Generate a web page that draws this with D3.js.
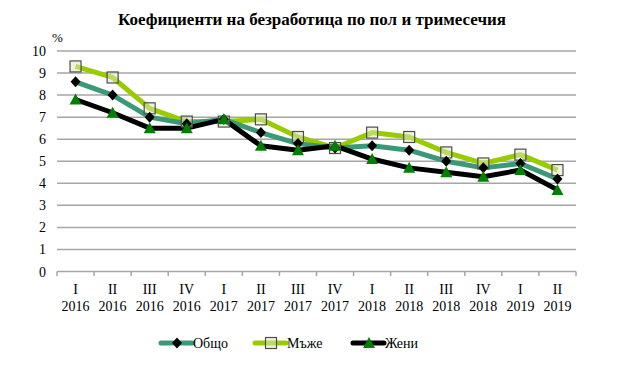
<!DOCTYPE html>
<html>
<head>
<style>
  body{
    margin: 0;
    background: white;
    font-family: 'Liberation Serif', 'Times New Roman', serif;
  }
</style>
</head>
<body>
<svg id='svgVis'></svg>
<script src="https://cdn.jsdelivr.net/npm/d3@7/dist/d3.min.js"></script>
<script>

var quarters = ["I","II","III","IV","I","II","III","IV","I","II","III","IV","I","II"];
var years = ["2016","2016","2016","2016","2017","2017","2017","2017","2018","2018","2018","2018","2019","2019"];

var total = [8.6, 8.0, 7.0, 6.7, 6.9, 6.3, 5.8, 5.6, 5.7, 5.5, 5.0, 4.7, 4.9, 4.2];
var men   = [9.3, 8.8, 7.4, 6.8, 6.8, 6.9, 6.1, 5.6, 6.3, 6.1, 5.4, 4.9, 5.3, 4.6];
var women = [7.8, 7.2, 6.5, 6.5, 6.9, 5.7, 5.5, 5.7, 5.1, 4.7, 4.5, 4.3, 4.6, 3.7];

var yTicks = [0,1,2,3,4,5,6,7,8,9,10];

var width = 630, height = 372;

var svg = d3.select("#svgVis")
    .attr("width", width)
    .attr("height", height)
    .style("font-family", "'Liberation Serif', serif");

var x = d3.scaleBand()
    .domain(d3.range(quarters.length))
    .range([57, 576]);

var y = d3.scaleLinear()
    .domain([0, 10])
    .range([271.5, 51]);

// title
svg.append("text")
  .attr("x", 312)
  .attr("y", 25)
  .attr("text-anchor", "middle")
  .style("font-weight", "bold")
  .style("font-size", "17px")
  .text("Коефициенти на безработица по пол и тримесечия");

svg.append("text")
  .attr("x", 52)
  .attr("y", 42)
  .style("font-size", "13px")
  .text("%");

// gridlines
svg.append("g")
  .selectAll("line")
  .data(yTicks)
  .enter()
  .append("line")
  .attr("x1", 57)
  .attr("x2", 576)
  .attr("y1", function(d) { return y(d); })
  .attr("y2", function(d) { return y(d); })
  .style("stroke", "#a6a6a6")
  .style("stroke-width", 1.5);

// y labels
svg.append("g")
  .selectAll("text")
  .data(yTicks)
  .enter()
  .append("text")
  .attr("x", 46)
  .attr("y", function(d) { return y(d) + 5; })
  .attr("text-anchor", "end")
  .style("font-size", "14px")
  .text(function(d) { return d; });

// x axis ticks
svg.append("g")
  .selectAll("line")
  .data(d3.range(quarters.length + 1))
  .enter()
  .append("line")
  .attr("x1", function(d) { return 57 + d * x.step(); })
  .attr("x2", function(d) { return 57 + d * x.step(); })
  .attr("y1", 271.5)
  .attr("y2", 276)
  .style("stroke", "#a6a6a6")
  .style("stroke-width", 1.5);

var xLab = svg.append("g")
  .selectAll("g")
  .data(quarters)
  .enter()
  .append("g")
  .attr("transform", function(d, i) { return "translate(" + (x(i) + x.bandwidth() / 2) + ",0)"; });

xLab.append("text")
  .attr("y", 294)
  .attr("text-anchor", "middle")
  .style("font-size", "14px")
  .text(function(d) { return d; });

xLab.append("text")
  .attr("y", 311)
  .attr("text-anchor", "middle")
  .style("font-size", "14px")
  .text(function(d, i) { return years[i]; });

var series = [
  {name: "Общо", values: total, color: "#3a9a78", marker: "diamond"},
  {name: "Мъже", values: men, color: "#99cc00", marker: "square"},
  {name: "Жени", values: women, color: "#000000", marker: "triangle"}
];

var line = d3.line()
  .x(function(d, i) { return x(i) + x.bandwidth() / 2; })
  .y(function(d) { return y(d); });

function drawMarker(g, type) {
  if (type == "diamond") {
    g.append("path")
      .attr("d", "M0,-5.5L5,0L0,5.5L-5,0Z")
      .style("fill", "#000");
  } else if (type == "square") {
    g.append("rect")
      .attr("x", -5.5).attr("y", -5.5)
      .attr("width", 11).attr("height", 11)
      .style("fill", "#dfe8c0")
      .style("fill-opacity", 0.5)
      .style("stroke", "#4d4d4d")
      .style("stroke-width", 1.2);
  } else {
    g.append("path")
      .attr("d", "M0,-6L6,5L-6,5Z")
      .style("fill", "#008000");
  }
}

// draw order: men, total, women
[series[1], series[0], series[2]].forEach(function(s) {
  svg.append("path")
    .datum(s.values)
    .attr("d", line)
    .style("fill", "none")
    .style("stroke", s.color)
    .style("stroke-width", 5)
    .style("stroke-linejoin", "round");
});

[series[1], series[0], series[2]].forEach(function(s) {
  svg.append("g")
    .selectAll("g")
    .data(s.values)
    .enter()
    .append("g")
    .attr("transform", function(d, i) { return "translate(" + (x(i) + x.bandwidth() / 2) + "," + y(d) + ")"; })
    .each(function() { drawMarker(d3.select(this), s.marker); });
});

// legend
var legX = [161, 255, 353];
series.forEach(function(s, i) {
  var g = svg.append("g").attr("transform", "translate(" + legX[i] + ",343)");
  g.append("line")
    .attr("x1", 0).attr("x2", 31)
    .style("stroke", s.color)
    .style("stroke-width", 5)
    .style("stroke-linecap", "round");
  var m = g.append("g").attr("transform", "translate(16,0)");
  drawMarker(m, s.marker);
  g.append("text")
    .attr("x", 32)
    .attr("y", 5)
    .style("font-size", "14px")
    .text(s.name);
});

</script>
</body>
</html>
